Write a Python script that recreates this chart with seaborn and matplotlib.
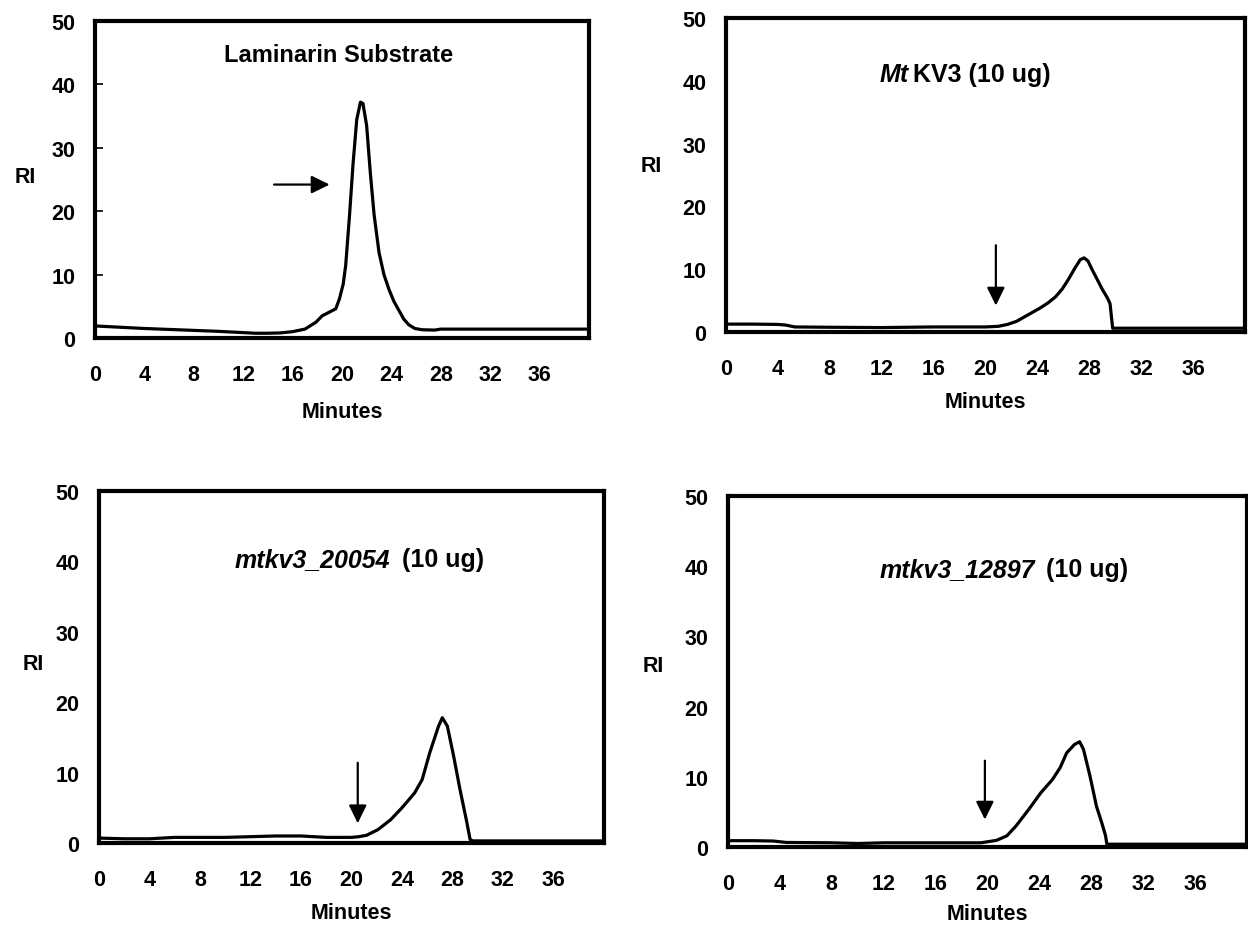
import matplotlib
matplotlib.use("Agg")
import matplotlib.pyplot as plt
from matplotlib.patches import ArrowStyle
import seaborn as sns
import numpy as np

# ---------------- data ----------------
x_ticks = [0, 4, 8, 12, 16, 20, 24, 28, 32, 36]
y_ticks = [0, 10, 20, 30, 40, 50]

lam_time = [0, 2, 4, 6, 8, 10, 12, 13, 14, 15, 16, 17, 17.9, 18.4, 18.9, 19.5,
            19.8, 20.1, 20.3, 20.6, 20.9, 21.2, 21.5, 21.7, 22.0, 22.3, 22.6,
            23.0, 23.4, 23.8, 24.2, 24.6, 25.0, 25.4, 25.9, 26.5, 27.5, 28, 30, 34, 40]
lam_ri = [1.9, 1.7, 1.5, 1.35, 1.2, 1.05, 0.85, 0.75, 0.75, 0.8, 1.0, 1.4, 2.5, 3.5, 4.0, 4.6,
          6.2, 8.5, 11.4, 19.0, 27.5, 34.5, 37.2, 37.0, 33.5, 26.0, 19.5,
          13.5, 10.0, 7.7, 5.8, 4.4, 3.0, 2.1, 1.5, 1.3, 1.25, 1.4, 1.4, 1.4, 1.4]

wt_time = [0, 2, 4, 4.6, 5.3, 8, 12, 16, 20, 21.0, 21.7, 22.4, 23.0, 23.6, 24.2,
           24.8, 25.4, 25.9, 26.4, 26.9, 27.3, 27.6, 27.9, 28.2, 28.6, 29.0, 29.4,
           29.6, 29.8, 30, 34, 40]
wt_ri = [1.25, 1.25, 1.2, 1.1, 0.8, 0.75, 0.7, 0.8, 0.8, 0.9, 1.2, 1.7, 2.4, 3.1, 3.8,
         4.6, 5.6, 6.8, 8.4, 10.2, 11.5, 11.8, 11.3, 10.0, 8.4, 6.8, 5.4,
         4.5, 0.6, 0.6, 0.6, 0.6]

m20054_time = [0, 2, 4, 6, 8, 10, 12, 14, 16, 18, 20, 20.6, 21.2, 22.1, 23.1, 24.0,
               25.0, 25.6, 26.2, 26.9, 27.2, 27.6, 28.1, 28.6, 29.1, 29.4, 29.6, 30, 34, 40]
m20054_ri = [0.7, 0.6, 0.6, 0.8, 0.8, 0.8, 0.9, 1.0, 1.0, 0.8, 0.8, 0.9, 1.1, 1.9, 3.3, 5.0,
             7.1, 9.0, 12.8, 16.6, 17.8, 16.6, 12.3, 7.6, 3.3, 0.5, 0.3, 0.3, 0.3, 0.3]

m12897_time = [0, 2, 3.5, 4.5, 8, 10, 12, 16, 19.5, 20.7, 21.5, 22.2, 23.2, 24.1, 25.0,
               25.6, 26.1, 26.7, 27.1, 27.4, 27.9, 28.4, 28.8, 29.1, 29.2, 30, 34, 40]
m12897_ri = [0.9, 0.9, 0.85, 0.65, 0.6, 0.5, 0.6, 0.6, 0.6, 0.95, 1.6, 3.0, 5.4, 7.7, 9.6,
             11.3, 13.4, 14.6, 15.0, 13.9, 10.1, 5.8, 3.5, 1.6, 0.4, 0.4, 0.4, 0.4]

# ---------------- style ----------------
sns.set_theme(style="white")
plt.rcParams["font.family"] = ["Liberation Sans", "DejaVu Sans"]
plt.rcParams["font.weight"] = "bold"
plt.rcParams["text.color"] = "black"
plt.rcParams["axes.labelcolor"] = "black"
plt.rcParams["xtick.color"] = "black"
plt.rcParams["ytick.color"] = "black"

fig = plt.figure(figsize=(12.48, 9.28), dpi=100)

panels = [
    dict(pos=[0.0761, 0.6347, 0.3958, 0.3416], t=lam_time, y=lam_ri, ticks_in=True,
         title=[("Laminarin Substrate", "normal", 19.7, "center")], title_y=44.7, tsize=17,
         arrow=((14.5, 24.2), (19.0, 24.2)), rl=(-0.142, 0.508), ml=-0.233),
    dict(pos=[0.5817, 0.6412, 0.4159, 0.3384], t=wt_time, y=wt_ri, ticks_in=False,
         title=[("Mt", "italic", 14.1, "right"), ("KV3 (10 ug)", "normal", 14.45, "left")],
         title_y=41.1, tsize=18,
         arrow=((20.8, 13.8), (20.8, 4.2)), rl=(-0.143, 0.529), ml=-0.223),
    dict(pos=[0.0793, 0.0905, 0.4046, 0.3793], t=m20054_time, y=m20054_ri, ticks_in=False,
         title=[("mtkv3_20054", "italic", 23.1, "right"), ("(10 ug)", "normal", 24.0, "left")],
         title_y=40.3, tsize=18,
         arrow=((20.5, 11.4), (20.5, 2.8)), rl=(-0.131, 0.509), ml=-0.198),
    dict(pos=[0.5833, 0.0862, 0.4159, 0.3782], t=m12897_time, y=m12897_ri, ticks_in=False,
         title=[("mtkv3_12897", "italic", 23.7, "right"), ("(10 ug)", "normal", 24.5, "left")],
         title_y=39.6, tsize=18,
         arrow=((19.8, 12.3), (19.8, 3.9)), rl=(-0.1445, 0.516), ml=-0.19),
]

for p in panels:
    ax = fig.add_axes(p["pos"])
    ax.set_facecolor("white")
    sns.lineplot(x=p["t"], y=p["y"], ax=ax, color="black", linewidth=2.3,
                 estimator=None, sort=False, solid_joinstyle="round", solid_capstyle="round")
    ax.set_xlim(0, 40)
    ax.set_ylim(0, 50)
    ax.set_xticks(x_ticks)
    ax.set_yticks(y_ticks)
    ax.set_xticklabels([str(v) for v in x_ticks], fontsize=15.5, fontweight="bold", color="black")
    ax.set_yticklabels([str(v) for v in y_ticks], fontsize=15.5, fontweight="bold", color="black")
    for s in ax.spines.values():
        s.set_visible(True)
        s.set_color("black")
        s.set_linewidth(3.0)
    ax.tick_params(axis="x", length=0, pad=19, colors="black")
    if p["ticks_in"]:
        ax.tick_params(axis="y", direction="in", length=6, width=1.2, pad=14, colors="black", left=True)
    else:
        ax.tick_params(axis="y", length=0, pad=14, colors="black")
    ax.set_ylabel("RI", fontsize=15.5, fontweight="bold", rotation=0, va="center", ha="center",
                  color="black")
    ax.yaxis.set_label_coords(*p["rl"])
    ax.set_xlabel("Minutes", fontsize=15.5, fontweight="bold", va="center", color="black")
    ax.xaxis.set_label_coords(0.5, p["ml"])
    ax.grid(False)
    for txt, style, xx, ha in p["title"]:
        ax.text(xx, p["title_y"], txt, fontsize=p["tsize"], fontweight="bold", fontstyle=style,
                ha=ha, va="center", color="black")
    tail, tip = p["arrow"]
    ax.annotate("", xy=tip, xytext=tail,
                arrowprops=dict(arrowstyle=ArrowStyle("-|>", head_length=0.55, head_width=0.27),
                                color="black", lw=1.6, shrinkA=0, shrinkB=0, mutation_scale=20))

fig.savefig("out.png", dpi=100, facecolor="white")
